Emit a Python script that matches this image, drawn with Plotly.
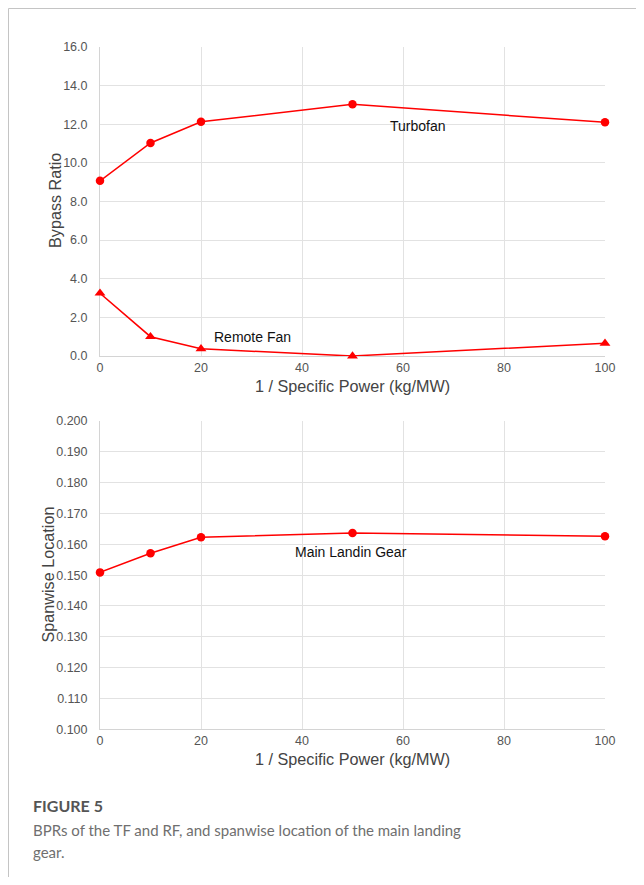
import plotly.graph_objects as go

# page body has an 8px margin; the figure fills the rest of the 644x885 window
OFF = 8
W, H = 644 - 2 * OFF, 885 - 2 * OFF

x_vals = [0, 10, 20, 50, 100]
turbofan_bpr = [9.07, 11.03, 12.13, 13.03, 12.1]
remote_fan_bpr = [3.25, 1.0, 0.37, 0.0, 0.66]
gear_location = [0.1509, 0.1571, 0.1623, 0.1637, 0.1626]

x_ticks = [0, 20, 40, 60, 80, 100]
y1_ticks = [0, 2, 4, 6, 8, 10, 12, 14, 16]
y2_ticks = [0.10, 0.11, 0.12, 0.13, 0.14, 0.15, 0.16, 0.17, 0.18, 0.19, 0.20]

RED = "#ff0000"
FONT = "Liberation Sans, Arial, sans-serif"
CAP_FONT = "Lato, Open Sans, sans-serif"
GRID = "#e2e2e2"


def px_x(p):
    return (p - OFF) / W


def px_y(p):
    return 1 - (p - OFF) / H


fig = go.Figure()
fig.add_trace(go.Scatter(x=x_vals, y=turbofan_bpr, mode="lines+markers",
                         line=dict(color=RED, width=1.5),
                         marker=dict(symbol="circle", size=8.5, color=RED),
                         xaxis="x", yaxis="y", showlegend=False, cliponaxis=False))
fig.add_trace(go.Scatter(x=x_vals, y=remote_fan_bpr, mode="lines+markers",
                         line=dict(color=RED, width=1.5),
                         marker=dict(symbol="triangle-up", size=9.5, color=RED),
                         xaxis="x", yaxis="y", showlegend=False, cliponaxis=False))
fig.add_trace(go.Scatter(x=x_vals, y=gear_location, mode="lines+markers",
                         line=dict(color=RED, width=1.5),
                         marker=dict(symbol="circle", size=8.5, color=RED),
                         xaxis="x2", yaxis="y2", showlegend=False, cliponaxis=False))

common_x = dict(range=[0, 100], tickvals=x_ticks, showgrid=True, gridcolor=GRID,
                gridwidth=1, zeroline=False, showline=True, linecolor="#d4d4d4",
                ticks="", ticklabelstandoff=0, automargin=False, layer="below traces",
                tickfont=dict(family=FONT, size=12.5, color="#555555"),
                domain=[px_x(100), px_x(605)])
common_y = dict(showgrid=True, gridcolor=GRID, zeroline=False, showline=True,
                linecolor="#d4d4d4", ticks="", ticklabelstandoff=9, automargin=False,
                layer="below traces",
                tickfont=dict(family=FONT, size=12.5, color="#555555"))

fig.update_layout(
    width=W, height=H,
    margin=dict(l=0, r=0, t=0, b=0, pad=0),
    paper_bgcolor="white", plot_bgcolor="white",
    xaxis=dict(**common_x, anchor="y"),
    yaxis=dict(**common_y, range=[0, 16], tickvals=y1_ticks,
               ticktext=[f"{v:.1f}" for v in y1_ticks],
               domain=[px_y(356), px_y(47)], anchor="x"),
    xaxis2=dict(**common_x, anchor="y2"),
    yaxis2=dict(**common_y, range=[0.1, 0.2], tickvals=y2_ticks,
                ticktext=[f"{v:.3f}" for v in y2_ticks],
                domain=[px_y(729.3), px_y(421)], anchor="x2"),
)


def note(x, y, text, font, xref="paper", yref="paper", xanchor="center", angle=0):
    fig.add_annotation(x=x, y=y, xref=xref, yref=yref, text=text, showarrow=False,
                       xanchor=xanchor, yanchor="middle", textangle=angle, font=font)


title_font = dict(family=FONT, size=16.2, color="#444444")
# axis titles
note(px_x(352.5), px_y(386), "1 / Specific Power (kg/MW)", title_font)
note(px_x(352.5), px_y(759), "1 / Specific Power (kg/MW)", title_font)
note(px_x(55), px_y(201), "Bypass Ratio", title_font, angle=-90)
note(px_x(47.5), px_y(575), "Spanwise Location", title_font, angle=-90)

# series labels
lab_font = dict(family=FONT, size=14, color="#111111")
note(63, 11.93, "Turbofan", lab_font, xref="x", yref="y")
note(30.1, 1.0, "Remote Fan", lab_font, xref="x", yref="y")
note(49.8, 0.1576, "Main Landin Gear", lab_font, xref="x2", yref="y2")

# caption
note(px_x(31), px_y(805), "<b>FIGURE 5</b>",
     dict(family=CAP_FONT, size=16, color="#555555"), xanchor="left")
cap_font = dict(family=CAP_FONT, size=15, color="#6f6f6f")
note(px_x(31), px_y(830), "BPRs of the TF and RF, and spanwise location of the main landing",
     cap_font, xanchor="left")
note(px_x(31), px_y(852), "gear.", cap_font, xanchor="left")

# frame lines
fig.add_shape(type="line", xref="paper", yref="paper", x0=px_x(8.5), x1=1.02,
              y0=px_y(8.5), y1=px_y(8.5), line=dict(color="#c4c4c4", width=1))
fig.add_shape(type="line", xref="paper", yref="paper", x0=px_x(8.5), x1=px_x(8.5),
              y0=px_y(8.5), y1=-0.02, line=dict(color="#c4c4c4", width=1))

fig.write_html("out.html")
